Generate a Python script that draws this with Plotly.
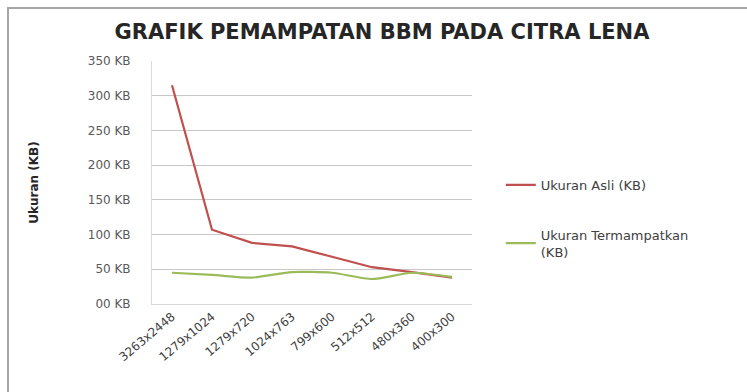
import plotly.graph_objects as go

categories = ["3263x2448", "1279x1024", "1279x720", "1024x763", "799x600", "512x512", "480x360", "400x300"]
ukuran_asli = [315, 107, 88, 83, 68, 53, 46, 38]
ukuran_termampatkan = [45, 42, 38, 46, 45, 36, 45, 39]
y_tick_vals = [0, 50, 100, 150, 200, 250, 300, 350]
y_tick_text = ["00 KB", "50 KB", "100 KB", "150 KB", "200 KB", "250 KB", "300 KB", "350 KB"]

FONT = "DejaVu Sans"

fig = go.Figure()
fig.add_trace(go.Scatter(
    x=categories, y=ukuran_asli, mode="lines", name="Ukuran Asli (KB)", showlegend=True,
    line=dict(color="#c0504d", width=2.2), legend="legend"))
fig.add_trace(go.Scatter(
    x=categories, y=ukuran_termampatkan, mode="lines", name="Ukuran Termampatkan<br>(KB)", showlegend=True,
    line=dict(color="#9bbb59", width=2.2, shape="spline", smoothing=0.6), legend="legend2"))

fig.update_layout(
    width=747, height=392,
    margin=dict(l=152, r=275, t=61, b=88),
    paper_bgcolor="white", plot_bgcolor="white",
    showlegend=True,
    font=dict(family=FONT, color="#595959", size=12),
    title=dict(text="<b>GRAFIK PEMAMPATAN BBM PADA CITRA LENA</b>",
               x=382 / 747, xanchor="center", y=1 - 32 / 392, yanchor="middle",
               font=dict(family=FONT, size=21, color="#262626")),
    legend=dict(x=1.09, y=0.49, xanchor="left", yanchor="middle",
                font=dict(family=FONT, size=13, color="#404040"), bgcolor="rgba(0,0,0,0)"),
    legend2=dict(x=1.09, y=0.25, xanchor="left", yanchor="middle",
                 font=dict(family=FONT, size=13, color="#404040"), bgcolor="rgba(0,0,0,0)"),
    xaxis=dict(type="category", tickangle=-40, showgrid=False, showline=True,
               linecolor="#d9d9d9", linewidth=1, ticks="", range=[-0.5, 7.5],
               tickfont=dict(family=FONT, size=12, color="#404040")),
    yaxis=dict(range=[0, 350], tickvals=y_tick_vals, ticktext=y_tick_text,
               showgrid=True, gridcolor="#c8c8c8", gridwidth=1, showline=True,
               linecolor="#d9d9d9", linewidth=1, zeroline=False, ticks="", ticklabelstandoff=18,
               tickfont=dict(family=FONT, size=12, color="#595959"),
               title=dict(text="<b>Ukuran (KB)</b>", standoff=46,
                          font=dict(family=FONT, size=12, color="#262626"))),
    shapes=[dict(type="rect", xref="paper", yref="paper",
                 x0=(8 - 152) / 320, x1=(800 - 152) / 320,
                 y0=(304 - 400) / 243, y1=(304 - 8) / 243,
                 line=dict(color="#a6a6a6", width=2), fillcolor="rgba(0,0,0,0)", layer="below")],
)

fig.write_html("out.html")
